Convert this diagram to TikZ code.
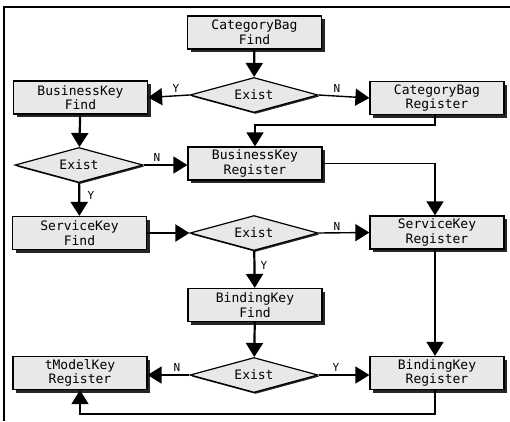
\documentclass[tikz,border=0pt]{standalone}
\usepackage{fontspec}
\newfontfamily\boxfont{DejaVu Sans Mono}
\usetikzlibrary{shapes.geometric,arrows.meta,shadows}

\begin{document}
\begin{tikzpicture}[x=1pt,y=-1pt,
  stepbox/.style={draw,line width=1.2pt,fill=gray!18,rectangle,
    minimum width=134pt,minimum height=33pt,inner sep=0pt,align=center,
    font=\boxfont\fontsize{13}{14.5}\selectfont,
    drop shadow={shadow xshift=3pt,shadow yshift=-3pt,opacity=1,fill=black!85}},
  test/.style={draw,line width=1.2pt,fill=gray!18,diamond,aspect=3.6,
    minimum width=128pt,minimum height=35pt,inner sep=0pt,
    font=\boxfont\fontsize{13}{14.5}\selectfont,
    drop shadow={shadow xshift=1.5pt,shadow yshift=-1.5pt,opacity=1,fill=black!85}},
  flow/.style={line width=2.2pt,-{Triangle[length=14pt,width=17pt]}},
  branch/.style={line width=1.4pt,-{Triangle[length=14pt,width=17pt]}},
  back/.style={line width=1.4pt,-{Triangle[length=14pt,width=17pt]}},
  lab/.style={font=\boxfont\fontsize{11}{12}\selectfont,inner sep=0pt}]

\useasboundingbox (0,0) rectangle (510,421);

% open frame (left and top edges)
\draw[line width=1.2pt] (4,421) -- (4,7) -- (510,7);

% process boxes and decisions
\node[stepbox] (cbf) at (254.5,32.5) {CategoryBag\\Find};
\node[test]    (d1)  at (254,95)    {Exist};
\node[stepbox] (bkf) at (80.5,97.5) {BusinessKey\\Find};
\node[stepbox] (cbr) at (437,98)    {CategoryBag\\Register};
\node[test]    (d2)  at (79,165)    {Exist};
\node[stepbox] (bkr) at (255,163.5) {BusinessKey\\Register};
\node[stepbox] (skf) at (79.5,233)  {ServiceKey\\Find};
\node[test]    (d3)  at (254,233)   {Exist};
\node[stepbox] (skr) at (437,232.5) {ServiceKey\\Register};
\node[stepbox] (bdf) at (255,305)   {BindingKey\\Find};
\node[test]    (d4)  at (254,375)   {Exist};
\node[stepbox] (tmr) at (80,373)    {tModelKey\\Register};
\node[stepbox] (bdr) at (437,373)   {BindingKey\\Register};

% routing levels for the elbow connectors
\coordinate (j1) at (0,125);
\coordinate (j2) at (0,414);

% main flow
\draw[flow] (cbf) -- (d1);
\draw[branch] (d1.west) -- (bkf.east);
\draw[branch] (d1.east) -- (cbr.west);
\draw[flow] (bkf) -- (d2);
\draw[branch] (d2.east) -- (bkr.west |- d2.east);
\draw[flow] (d2) -- (skf);
\draw[flow] (skf.east) -- (d3.west);
\draw[branch] (d3.east) -- (skr.west);
\draw[flow] (d3) -- (bdf);
\draw[flow] (bdf) -- (d4);
\draw[branch] (d4.west) -- (tmr.east |- d4.west);
\draw[branch] (d4.east) -- (bdr.west |- d4.east);

% register chain
\draw[back] ([xshift=-2pt]cbr.south) |- (bkr.north |- j1) -- (bkr.north);
\draw[back] (bkr.east) -| ([xshift=-2pt]skr.north);
\draw[back] ([xshift=-2pt]skr.south) -- ([xshift=-2pt]bdr.north);
\draw[back] ([xshift=-2pt]bdr.south) |- (tmr.south |- j2) -- (tmr.south);

% branch labels
\node[lab] (y1) at (176,88)  {Y};
\node[lab] (n1) at (337,88)  {N};
\node[lab] (n2) at (157,157) {N};
\node[lab] (y2) at (91,195)  {Y};
\node[lab] (n3) at (337,226) {N};
\node[lab] (y3) at (264,265) {Y};
\node[lab] (n4) at (177,367) {N};
\node[lab] (y4) at (336,367) {Y};
\end{tikzpicture}
\end{document}
